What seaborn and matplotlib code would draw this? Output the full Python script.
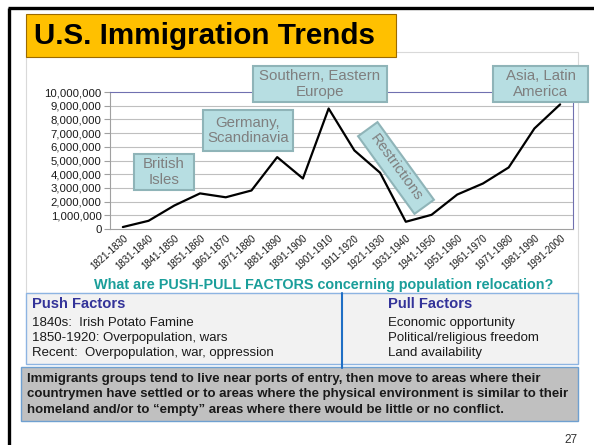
import matplotlib
matplotlib.use("Agg")
import matplotlib.pyplot as plt
import seaborn as sns
import pandas as pd
from matplotlib.patches import Rectangle
from matplotlib.ticker import FuncFormatter, FixedLocator

# Data
decades = ['1821-1830', '1831-1840', '1841-1850', '1851-1860', '1861-1870',
           '1871-1880', '1881-1890', '1891-1900', '1901-1910', '1911-1920',
           '1921-1930', '1931-1940', '1941-1950', '1951-1960', '1961-1970',
           '1971-1980', '1981-1990', '1991-2000']
immigrants = [143439, 599125, 1713251, 2598214, 2314824, 2812191, 5246613,
              3687564, 8795386, 5735811, 4107209, 528431, 1035039, 2515479,
              3321677, 4493314, 7338062, 9095417]
y_ticks = list(range(0, 10000001, 1000000))

title = 'U.S. Immigration Trends'
question = 'What are PUSH-PULL FACTORS concerning population relocation?'
push_lines = ['1840s:  Irish Potato Famine', '1850-1920: Overpopulation, wars',
              'Recent:  Overpopulation, war, oppression']
pull_lines = ['Economic opportunity', 'Political/religious freedom', 'Land availability']
note_lines = ['Immigrants groups tend to live near ports of entry, then move to areas where their',
              'countrymen have settled or to areas where the physical environment is similar to their',
              'homeland and/or to \u201cempty\u201d areas where there would be little or no conflict.']

df = pd.DataFrame({'decade': decades, 'immigrants': immigrants})

sns.set_theme(style='white')
plt.rcParams['font.family'] = ['Liberation Sans', 'DejaVu Sans']

W, H = 594, 445
fig = plt.figure(figsize=(W / 100, H / 100), dpi=100)
fig.patch.set_facecolor('white')


def py(y):
    # convert a top-down pixel row to bottom-up
    return H - y


# background layer in pixel units
bg = fig.add_axes([0, 0, 1, 1], zorder=0)
bg.set_xlim(0, W)
bg.set_ylim(0, H)
bg.axis('off')

# slide frame
bg.plot([8, W], [py(8), py(8)], color='black', lw=2.4, solid_capstyle='butt')
bg.plot([8.5, 8.5], [py(8), 0], color='black', lw=2.4, solid_capstyle='butt')

# chart area border
bg.add_patch(Rectangle((26, py(293)), 552, 241, fill=False, ec='#d9d9d9', lw=0.8))

# question
bg.text(324, py(285), question, color='#1a9e9a', fontsize=10.4, fontweight='bold',
        ha='center', va='center')

# push / pull table
bg.add_patch(Rectangle((26, py(364)), 552, 71, fc='#f2f2f2', ec='#8db4e2', lw=1))
bg.text(32, py(304), 'Push Factors', color='#333399', fontsize=10.6, fontweight='bold',
        va='center')
bg.text(388, py(304), 'Pull Factors', color='#333399', fontsize=10.6, fontweight='bold',
        va='center')
for i, (a, b) in enumerate(zip(push_lines, pull_lines)):
    bg.text(32, py(323 + 15 * i), a, color='#1a1a1a', fontsize=9.5, va='center')
    bg.text(388, py(323 + 15 * i), b, color='#1a1a1a', fontsize=9.5, va='center')
bg.plot([342, 342], [py(293), py(368)], color='#1f6fc5', lw=1.5)

# note box
bg.add_patch(Rectangle((21, py(421)), 557, 54, fc='#c0c0c0', ec='#6fa0d0', lw=1))
for i, line in enumerate(note_lines):
    bg.text(27, py(379 + 15.5 * i), line, color='#1a1a1a', fontsize=9.5,
            fontweight='bold', va='center')

bg.text(578, py(440), '27', color='#333333', fontsize=8.5, ha='right', va='center')

# chart
ax = fig.add_axes([110 / W, 1 - 229 / H, 463 / W, 137 / H], zorder=1)
ax.set_facecolor('none')
sns.lineplot(data=df, x='decade', y='immigrants', ax=ax, color='black', lw=1.6,
             sort=False)
ax.set_xlim(-0.5, len(decades) - 0.5)
ax.set_ylim(0, 10000000)
ax.set_yticks(y_ticks)
ax.yaxis.set_major_formatter(FuncFormatter(lambda v, p: f'{int(v):,}'))
ax.set_xticks(range(len(decades)))
ax.set_xticklabels(decades, rotation=42, ha='right', rotation_mode='anchor',
                   fontsize=7, color='#1a1a1a')
ax.xaxis.set_minor_locator(FixedLocator([i - 0.5 for i in range(len(decades) + 1)]))
ax.tick_params(axis='x', which='major', length=0, pad=3)
ax.tick_params(axis='x', which='minor', length=4, color='#a0a0a0', width=0.8)
ax.tick_params(axis='y', length=4, color='#a0a0a0', width=0.8, labelsize=8.2,
               labelcolor='#1a1a1a', pad=2, left=True)
ax.set_xlabel('')
ax.set_ylabel('')
for v in y_ticks[1:-1]:
    ax.axhline(v, color='#bfbfbf', lw=0.8, zorder=0)
ax.spines['left'].set_color('#a0a0a0')
ax.spines['bottom'].set_color('#a0a0a0')
ax.spines['top'].set_color('#7070b0')
ax.spines['right'].set_color('#7070b0')
for s in ax.spines.values():
    s.set_linewidth(0.8)

# overlay layer: title and annotation boxes
ov = fig.add_axes([0, 0, 1, 1], zorder=2)
ov.set_xlim(0, W)
ov.set_ylim(0, H)
ov.axis('off')
ov.patch.set_alpha(0)

ov.add_patch(Rectangle((26, py(57)), 370, 43, fc='#ffc000', ec='#9c6a00', lw=0.8))
ov.text(34, py(36), title, fontsize=21.3, fontweight='bold', color='black', va='center')

box_fc = '#b7dee2'
box_ec = '#8fb4b8'
txt_c = '#7f7f7f'
boxes = [
    (134, 154, 60, 36, 'British\nIsles'),
    (203, 110, 90, 41, 'Germany,\nScandinavia'),
    (253, 66, 134, 36, 'Southern, Eastern\nEurope'),
    (493, 66, 95, 36, 'Asia, Latin\nAmerica'),
]
for x0, y0, w, h, label in boxes:
    ov.add_patch(Rectangle((x0, py(y0 + h)), w, h, fc=box_fc, ec=box_ec, lw=1.5))
    ov.text(x0 + w / 2, py(y0 + h / 2), label, ha='center', va='center',
            fontsize=10.8, color=txt_c, linespacing=1.15)

cx, cy = 396, 168
ov.add_patch(Rectangle((cx - 48, py(cy) - 12), 96, 24, angle=-54,
                       rotation_point='center', fc=box_fc, ec=box_ec, lw=1.5))
ov.text(cx, py(cy), 'Restrictions', rotation=-54, ha='center', va='center',
        rotation_mode='anchor', fontsize=10.8, color=txt_c)

fig.savefig('out.png', dpi=100)
